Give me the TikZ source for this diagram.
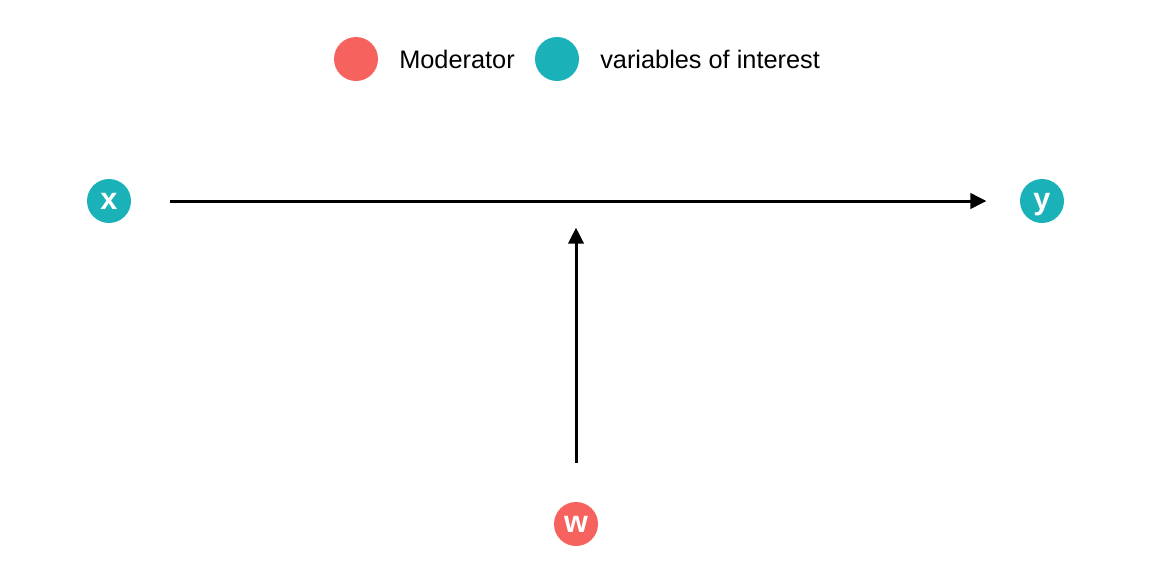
\documentclass[tikz,border=0pt]{standalone}
\usepackage{fontspec}
\setmainfont{Liberation Sans}
\usetikzlibrary{arrows.meta}
\definecolor{modred}{RGB}{246,98,94}
\definecolor{varteal}{RGB}{26,178,184}
\tikzset{
  dot/.style={circle, inner sep=0pt, minimum size=33pt},
  vnode/.style={dot, fill=#1, text=white, text height=12pt, text depth=0pt, font=\fontsize{23}{23}\selectfont\bfseries},
  legtext/.style={anchor=base west, inner sep=0pt, font=\fontsize{19}{19}\selectfont},
  conn/.style={line width=2.25pt, -{Triangle[length=12pt,width=11.5pt]}}
}
\begin{document}
\begin{tikzpicture}[x=0.75pt,y=-0.75pt]
\useasboundingbox (0,0) rectangle (1152,576);
% legend
\node[dot, fill=modred] (lr) at (356,59) {};
\node[legtext] (lrt) at (399,68) {Moderator};
\node[dot, fill=varteal] (lt) at (557,59) {};
\node[legtext] (ltt) at (600,68) {variables of interest};
% nodes
\node[vnode=varteal] (x) at (109,201) {x};
\node[vnode=varteal] (y) at (1042,201) {y};
\node[vnode=modred] (w) at (576,524) {w};
\coordinate (m) at (576,201);
% connectors
\draw[conn, shorten <=29pt, shorten >=25pt] (x) -- (y);
\draw[conn, shorten <=29pt, shorten >=20pt] (w) -- (m);
\end{tikzpicture}
\end{document}
